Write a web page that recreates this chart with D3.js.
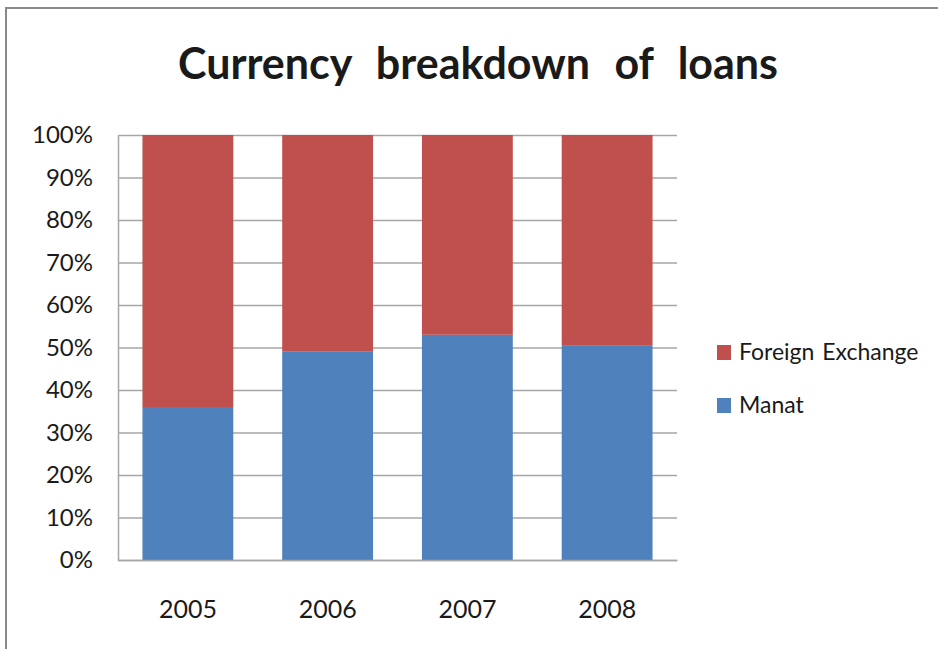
<!DOCTYPE html>
<html>
<head>
<meta charset="utf-8">
<script src="https://cdn.jsdelivr.net/npm/d3@7"></script>
<style>
  html, body { margin: 0; padding: 0; background: #fff; }
  svg { display: block; }
  text { font-family: Lato, "Noto Sans", sans-serif; fill: #1a1a1a; }
</style>
</head>
<body>
<svg id="chart" width="938" height="649"></svg>
<script>
// Share of loans by currency, in percent of the total
const years = ["2005", "2006", "2007", "2008"];
const manat = [36, 49, 53, 50.4];
const foreignExchange = [64, 51, 47, 49.6];
const yTicks = [0, 10, 20, 30, 40, 50, 60, 70, 80, 90, 100];
const seriesNames = ["Foreign Exchange", "Manat"];
const seriesColors = ["#C0504D", "#4F81BD"];
const title = "Currency breakdown of loans";

const svg = d3.select("#chart");
const W = 938, H = 649;
const plot = { left: 118, right: 677, top: 135, bottom: 560 };

svg.append("rect").attr("width", W).attr("height", H).attr("fill", "#fff");

// outer frame (top and left edges)
svg.append("path")
  .attr("d", `M6,${H} V8 H${W}`)
  .attr("fill", "none")
  .attr("stroke", "#8a8a8a")
  .attr("stroke-width", 2);

const x = d3.scaleBand()
  .domain(years)
  .range([plot.left, plot.right])
  .paddingInner(0.35)
  .paddingOuter(0.175);

const y = d3.scaleLinear().domain([0, 100]).range([plot.bottom, plot.top]);

// horizontal gridlines
const grid = svg.append("g")
  .attr("transform", `translate(${plot.left},0)`)
  .call(d3.axisLeft(y).tickValues(yTicks).tickSize(-(plot.right - plot.left)).tickFormat(""));
grid.select(".domain").remove();
grid.selectAll(".tick line").attr("stroke", "#a6a6a6").attr("stroke-width", 1.3);

// stacked bars
const rows = years.map((yr, i) => ({ year: yr, "Manat": manat[i], "Foreign Exchange": foreignExchange[i] }));
const stack = d3.stack().keys(["Manat", "Foreign Exchange"])(rows);
const color = d3.scaleOrdinal().domain(seriesNames).range(seriesColors);

svg.append("g").selectAll("g")
  .data(stack)
  .join("g")
  .attr("fill", d => color(d.key))
  .selectAll("rect")
  .data(d => d)
  .join("rect")
  .attr("x", d => x(d.data.year))
  .attr("width", x.bandwidth())
  .attr("y", d => y(d[1]))
  .attr("height", d => y(d[0]) - y(d[1]));

// y axis
const yAxis = svg.append("g")
  .attr("transform", `translate(${plot.left},0)`)
  .call(d3.axisLeft(y).tickValues(yTicks).tickSize(0).tickPadding(25).tickFormat(d => d + "%"));
yAxis.select(".domain").attr("stroke", "#a6a6a6").attr("stroke-width", 1.5);
yAxis.selectAll("text").attr("font-size", 24).attr("font-family", "Lato").attr("fill", "#1a1a1a");

// x axis
const xAxis = svg.append("g")
  .attr("transform", `translate(0,${plot.bottom})`)
  .call(d3.axisBottom(x).tickSize(0).tickPadding(40));
xAxis.select(".domain").attr("stroke", "#a6a6a6").attr("stroke-width", 1.5);
xAxis.selectAll("text").attr("font-size", 25).attr("font-family", "Lato").attr("fill", "#1a1a1a");

// title
svg.append("text")
  .attr("x", 478)
  .attr("y", 79)
  .attr("text-anchor", "middle")
  .attr("font-size", 43)
  .attr("font-weight", "bold")
  .attr("word-spacing", 14)
  .attr("fill", "#000")
  .text(title);

// legend
const legend = svg.append("g").selectAll("g")
  .data(seriesNames)
  .join("g")
  .attr("transform", (d, i) => `translate(717,${345 + i * 53})`);
legend.append("rect")
  .attr("width", 14).attr("height", 15)
  .attr("fill", d => color(d));
legend.append("text")
  .attr("x", 22)
  .attr("y", 15)
  .attr("font-size", 23)
  .attr("word-spacing", 2)
  .text(d => d);
</script>
</body>
</html>
